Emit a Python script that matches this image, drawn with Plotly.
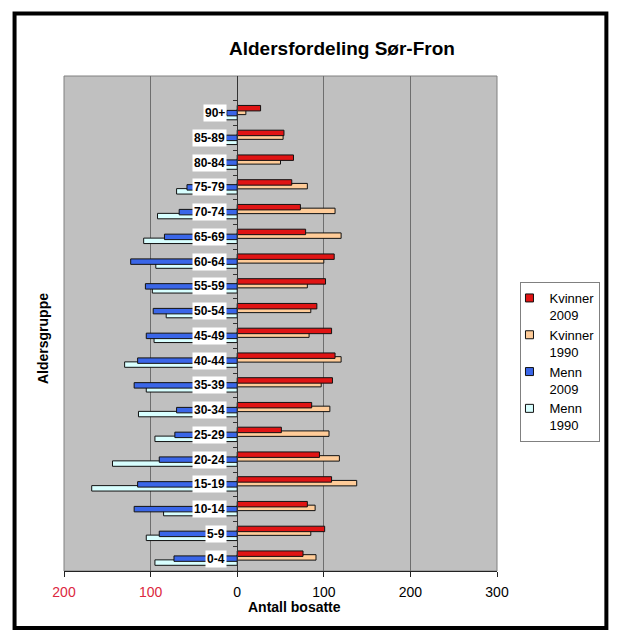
import plotly.graph_objects as go

# ---- data ----
age_groups = ["0-4", "5-9", "10-14", "15-19", "20-24", "25-29", "30-34", "35-39",
              "40-44", "45-49", "50-54", "55-59", "60-64", "65-69", "70-74",
              "75-79", "80-84", "85-89", "90+"]
kvinner_2009 = [76, 101, 81, 109, 95, 51, 86, 110, 113, 109, 92, 102, 112, 79, 73, 63, 65, 54, 27]
kvinner_1990 = [91, 85, 90, 138, 118, 106, 107, 97, 120, 83, 85, 81, 100, 120, 113, 81, 50, 53, 10]
menn_2009 = [73, 90, 119, 115, 90, 72, 70, 119, 115, 105, 97, 106, 123, 84, 67, 58, 14, 13, 12]
menn_1990 = [95, 105, 85, 168, 144, 95, 114, 105, 130, 96, 82, 98, 94, 108, 92, 70, 39, 21, 14]
x_tickvals = [-200, -100, 0, 100, 200, 300]
x_ticktext = ['<span style="color:#DC2840">200</span>', '<span style="color:#DC2840">100</span>',
              "0", "100", "200", "300"]

FONT = "Arial, Liberation Sans, sans-serif"
pos = list(range(len(age_groups)))

C_K09 = "#E01414"
C_K90 = "#FFCC99"
C_M09 = "#3A66E8"
C_M90 = "#D8FFFF"

BW = 0.22
series = [
    # name, values, sign, color, center offset
    ("Kvinner<br>1990", kvinner_1990, 1, C_K90, 0.05),
    ("Kvinner<br>2009", kvinner_2009, 1, C_K09, 0.20),
    ("Menn<br>1990", menn_1990, -1, C_M90, -0.16),
    ("Menn<br>2009", menn_2009, -1, C_M09, 0.0),
]

fig = go.Figure()
for name, vals, sign, col, c in series:
    fig.add_trace(go.Bar(
        y=pos, x=[sign * v for v in vals], orientation="h",
        width=BW, offset=c - BW / 2,
        marker=dict(color=col, line=dict(color="#111111", width=1)),
        name=name, showlegend=False, hoverinfo="skip",
    ))

# legend entries (small square markers like the original)
legend_order = [("Kvinner<br>2009", C_K09), ("Kvinner<br>1990", C_K90),
                ("Menn<br>2009", C_M09), ("Menn<br>1990", C_M90)]
for i, (name, col) in enumerate(legend_order):
    fig.add_trace(go.Scatter(
        x=[None], y=[None], mode="markers", name=name, legendrank=i + 1,
        marker=dict(symbol="square", size=8, color=col, line=dict(color="#111111", width=1)),
    ))

# category labels in white boxes next to the zero axis
for p, lab in zip(pos, age_groups):
    fig.add_annotation(x=0, y=p, xref="x", yref="y", text=f"<b>{lab}</b>",
                       showarrow=False, xanchor="right", yanchor="middle", xshift=-10,
                       bgcolor="white", borderpad=1,
                       font=dict(family=FONT, size=12, color="black"))

# page body has an 8px margin: the figure starts at (8, 8) in the window
OFF = 8
W, H = 620 - OFF, 642 - OFF
L, R, T, B = 64 - OFF, W - (497.5 - OFF), 76 - OFF, H - (571 - OFF)
PW, PH = W - L - R, H - T - B


def px(xpix):
    return (xpix - 64) / PW


def py(ypix):
    return (571 - ypix) / PH


fig.add_annotation(x=px(342), y=py(48), xref="paper", yref="paper",
                   text="<b>Aldersfordeling Sør-Fron</b>", showarrow=False,
                   xanchor="center", yanchor="middle",
                   font=dict(family=FONT, size=19, color="black"))
fig.add_annotation(x=px(295), y=py(607), xref="paper", yref="paper",
                   text="<b>Antall bosatte</b>", showarrow=False,
                   xanchor="center", yanchor="middle",
                   font=dict(family=FONT, size=14, color="black"))
fig.add_annotation(x=px(43), y=py(339), xref="paper", yref="paper",
                   text="<b>Aldersgruppe</b>", showarrow=False, textangle=-90,
                   xanchor="center", yanchor="middle",
                   font=dict(family=FONT, size=14, color="black"))

# plot area border
fig.add_shape(type="rect", xref="paper", yref="paper", x0=0, x1=1, y0=0, y1=1,
              line=dict(color="#808080", width=1), layer="below")
# outer chart frame
fig.add_shape(type="rect", xref="paper", yref="paper",
              x0=px(14.5), x1=px(607), y0=py(628), y1=py(13.5),
              line=dict(color="black", width=4), layer="above")

n_slots = len(age_groups) + 1
fig.update_layout(
    width=W, height=H,
    margin=dict(l=L, r=R, t=T, b=B, pad=0),
    paper_bgcolor="white", plot_bgcolor="#C0C0C0",
    barmode="overlay",
    font=dict(family=FONT, size=14, color="black"),
    xaxis=dict(range=[-200, 300], tickvals=x_tickvals, ticktext=x_ticktext,
               showgrid=True, gridcolor="#6E6E6E", gridwidth=1, zeroline=False,
               showline=True, linecolor="#222222", linewidth=1,
               ticks="outside", ticklen=5, tickcolor="#222222",
               tickfont=dict(family=FONT, size=14, color="black"),
               ticklabelstandoff=3, fixedrange=True),
    yaxis=dict(range=[-0.5, n_slots - 0.5], anchor="free", position=0.4,
               tickvals=[p - 0.5 for p in pos] + [len(age_groups) - 0.5],
               showticklabels=False, ticks="outside", ticklen=4, tickcolor="#333333",
               showline=True, linecolor="#333333", linewidth=1,
               showgrid=False, zeroline=False, fixedrange=True),
    legend=dict(x=px(521), y=py(282), xanchor="left", yanchor="top",
                bgcolor="white", bordercolor="#808080", borderwidth=1,
                font=dict(family=FONT, size=13, color="black"),
                valign="top", indentation=-12, tracegroupgap=0,
                itemclick=False, itemdoubleclick=False),
    showlegend=True,
)

fig.write_html("out.html")
